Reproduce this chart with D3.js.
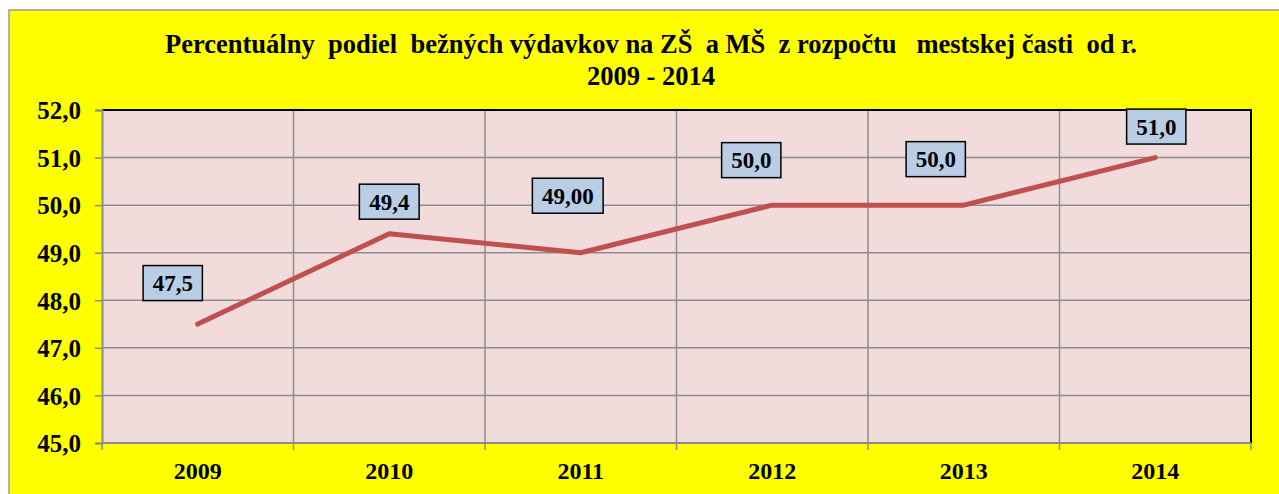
<!DOCTYPE html>
<html>
<head>
<meta charset="utf-8">
<script src="https://cdn.jsdelivr.net/npm/d3@7"></script>
<style>
  html, body { margin: 0; padding: 0; background: #fff; }
  svg { display: block; }
  text { font-family: "Liberation Serif", "Times New Roman", serif; font-weight: bold; fill: #000; }
</style>
</head>
<body>
<svg id="chart" width="1279" height="494"></svg>
<script>
// Share of current expenditure on primary schools (ZŠ) and kindergartens (MŠ)
const years = ["2009", "2010", "2011", "2012", "2013", "2014"];
const shares = [47.5, 49.4, 49.0, 50.0, 50.0, 51.0];
const labelTexts = ["47,5", "49,4", "49,00", "50,0", "50,0", "51,0"];
const yTicks = [45, 46, 47, 48, 49, 50, 51, 52];
const titleLines = [
  "Percentuálny  podiel  bežných výdavkov na ZŠ  a MŠ  z rozpočtu   mestskej časti  od r.",
  "2009 - 2014"
];

// Hand-placed label offsets (box centre relative to the point, in px)
const labelOffsets = [[-25, -41], [0, -32], [-13, -57], [-21, -45], [-28, -46], [1, -31]];

const W = 1279, H = 494;
const svg = d3.select("#chart");

// Chart area
svg.append("rect")
  .attr("x", 9).attr("y", 10).attr("width", W + 10).attr("height", H + 10)
  .attr("fill", "#FFFF00").attr("stroke", "#999").attr("stroke-width", 1.5);

const plot = { left: 102, top: 110, right: 1251, bottom: 443 };

const x = d3.scaleBand().domain(years).range([plot.left, plot.right]).padding(0);
const y = d3.scaleLinear().domain([45, 52]).range([plot.bottom, plot.top]);

// Plot background
svg.append("rect")
  .attr("x", plot.left).attr("y", plot.top)
  .attr("width", plot.right - plot.left).attr("height", plot.bottom - plot.top)
  .attr("fill", "#F2DCDB");

// Horizontal gridlines
svg.append("g")
  .selectAll("line").data(yTicks.slice(1))
  .join("line")
  .attr("x1", plot.left).attr("x2", plot.right)
  .attr("y1", d => y(d)).attr("y2", d => y(d))
  .attr("stroke", "#8c8c8c").attr("stroke-width", 1.5);

// Vertical gridlines at category boundaries
const bounds = years.map(d => x(d)).concat([x(years[years.length - 1]) + x.bandwidth()]);
svg.append("g")
  .selectAll("line").data(bounds.slice(1, -1))
  .join("line")
  .attr("x1", d => d).attr("x2", d => d)
  .attr("y1", plot.top).attr("y2", plot.bottom)
  .attr("stroke", "#8c8c8c").attr("stroke-width", 1.5);

// Plot border: top and right in black
svg.append("path")
  .attr("d", `M${plot.left},${plot.top}H${plot.right}V${plot.bottom}`)
  .attr("fill", "none").attr("stroke", "#000").attr("stroke-width", 2);

// Y axis
const yAxis = svg.append("g")
  .attr("transform", `translate(${plot.left},0)`)
  .call(d3.axisLeft(y).tickValues(yTicks).tickSize(7).tickPadding(14)
    .tickFormat(d => d3.format(".1f")(d).replace(".", ",")));
yAxis.attr("font-family", null).attr("font-size", null);
yAxis.select(".domain").attr("stroke", "#8c8c8c").attr("stroke-width", 2);
yAxis.selectAll(".tick line").attr("stroke", "#8c8c8c").attr("stroke-width", 1.5);
yAxis.selectAll(".tick text")
  .attr("font-size", 25)
  .attr("fill", "#000").attr("dy", "0.35em");

// X axis: ticks at category boundaries, labels centred in bands
const xAxisG = svg.append("g").attr("transform", `translate(0,${plot.bottom})`);
xAxisG.append("line")
  .attr("x1", plot.left).attr("x2", plot.right)
  .attr("stroke", "#8c8c8c").attr("stroke-width", 2);
xAxisG.selectAll("line.tk").data(bounds)
  .join("line").attr("class", "tk")
  .attr("x1", d => d).attr("x2", d => d).attr("y1", 0).attr("y2", 7)
  .attr("stroke", "#8c8c8c").attr("stroke-width", 1.5);
xAxisG.selectAll("text").data(years)
  .join("text")
  .attr("x", d => x(d) + x.bandwidth() / 2)
  .attr("y", 36)
  .attr("text-anchor", "middle")
  .attr("font-size", 24)
  .text(d => d);

// Data line
const cx = d => x(d) + x.bandwidth() / 2;
const line = d3.line().x((d, i) => cx(years[i])).y(d => y(d));
svg.append("path")
  .datum(shares)
  .attr("d", line)
  .attr("fill", "none")
  .attr("stroke", "#C0504D")
  .attr("stroke-width", 5)
  .attr("stroke-linecap", "round")
  .attr("stroke-linejoin", "round");

// Data labels
const lbl = svg.append("g").selectAll("g").data(shares).join("g")
  .attr("transform", (d, i) =>
    `translate(${cx(years[i]) + labelOffsets[i][0]},${y(d) + labelOffsets[i][1]})`);
lbl.append("text")
  .attr("text-anchor", "middle")
  .attr("dy", "0.35em")
  .attr("font-size", 23)
  .text((d, i) => labelTexts[i]);
lbl.each(function () {
  const g = d3.select(this);
  const bb = g.select("text").node().getBBox();
  const w = bb.width + 19, h = 35;
  g.insert("rect", "text")
    .attr("x", -w / 2).attr("y", -h / 2)
    .attr("width", w).attr("height", h)
    .attr("fill", "#B9CDE5").attr("stroke", "#000").attr("stroke-width", 1.5);
});

// Title
svg.append("text")
  .attr("text-anchor", "middle")
  .attr("font-size", 26.5)
  .selectAll("tspan").data(titleLines).join("tspan")
  .attr("x", 651)
  .attr("y", (d, i) => 53 + i * 32)
  .attr("xml:space", "preserve")
  .style("white-space", "pre")
  .text(d => d);
</script>
</body>
</html>
